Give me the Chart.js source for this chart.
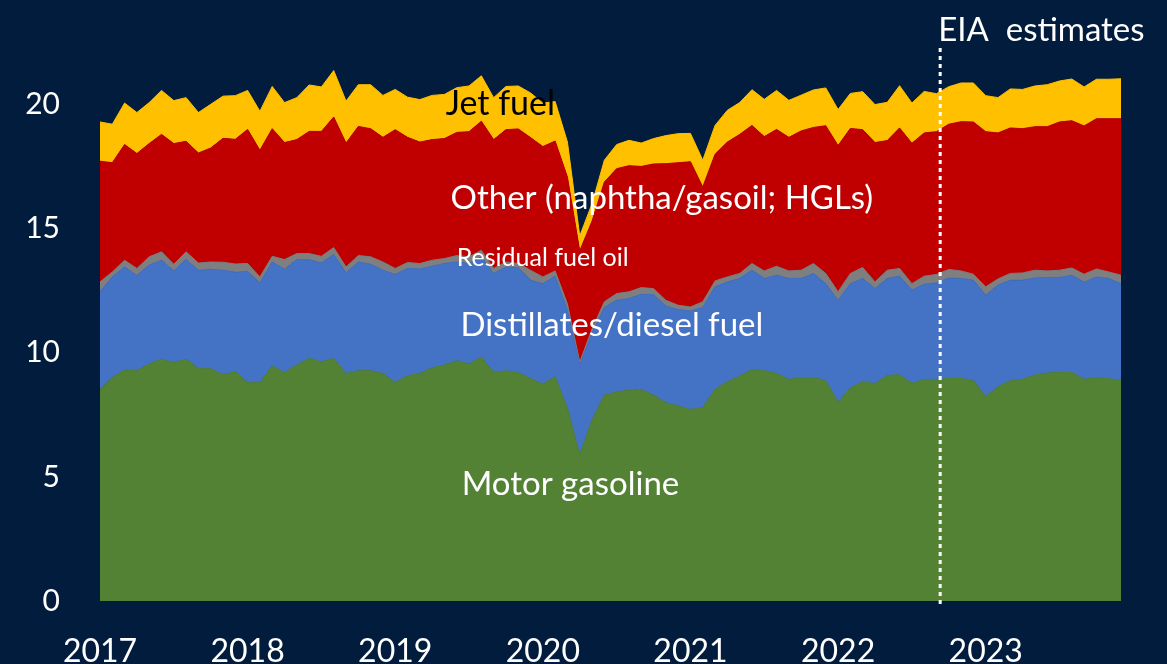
<!DOCTYPE html>
<html>
<head>
<meta charset="utf-8">
<script src="https://cdn.jsdelivr.net/npm/chart.js@4.4.1/dist/chart.umd.min.js"></script>
<style>
  html, body { margin: 0; padding: 0; background: #021c3e; }
  #wrap { width: 1167px; height: 664px; position: relative; }
</style>
</head>
<body>
<div id="wrap"><canvas id="fuelChart"></canvas></div>
<script>
var YEARS = ['2017', '2018', '2019', '2020', '2021', '2022', '2023'];
var Y_TICKS = [0, 5, 10, 15, 20];

// million barrels per day, monthly Jan 2017 - Dec 2023
var GASOLINE = [8.52, 9.00, 9.30, 9.27, 9.54, 9.74, 9.59, 9.73, 9.36, 9.35, 9.11, 9.23,
    8.79, 8.79, 9.46, 9.20, 9.50, 9.77, 9.63, 9.77, 9.16, 9.27, 9.27, 9.16,
    8.79, 9.07, 9.16, 9.39, 9.50, 9.67, 9.54, 9.82, 9.20, 9.27, 9.19, 8.96,
    8.73, 9.03, 7.75, 5.88, 7.28, 8.29, 8.42, 8.49, 8.52, 8.29, 7.98, 7.85,
    7.71, 7.79, 8.52, 8.83, 9.05, 9.32, 9.27, 9.16, 8.92, 9.00, 9.00, 8.87,
    8.00, 8.58, 8.83, 8.75, 9.08, 9.11, 8.76, 8.92, 8.92, 8.96, 8.96, 8.88,
    8.22, 8.62, 8.87, 8.93, 9.09, 9.18, 9.20, 9.20, 8.93, 8.99, 8.95, 8.89];

var DISTILLATE = [3.93, 4.05, 4.15, 3.84, 3.99, 3.98, 3.70, 4.02, 3.96, 4.01, 4.21, 4.01,
    4.48, 4.02, 4.19, 4.16, 4.25, 3.98, 3.98, 4.19, 4.05, 4.38, 4.29, 4.16,
    4.36, 4.32, 4.21, 4.09, 4.09, 3.98, 4.05, 4.04, 3.99, 4.18, 4.24, 3.96,
    4.05, 4.05, 3.96, 3.62, 3.52, 3.53, 3.69, 3.69, 3.83, 4.05, 3.89, 3.89,
    3.97, 4.03, 4.13, 4.02, 3.94, 4.00, 3.72, 3.96, 4.07, 3.99, 4.19, 3.91,
    4.11, 4.20, 4.16, 3.83, 3.91, 3.97, 3.76, 3.84, 3.89, 4.05, 4.03, 4.04,
    4.09, 4.10, 4.05, 3.99, 3.92, 3.85, 3.83, 3.92, 3.91, 4.06, 4.04, 3.89];

var RESIDUAL = [0.40, 0.20, 0.27, 0.28, 0.33, 0.34, 0.27, 0.31, 0.29, 0.29, 0.32, 0.33,
    0.32, 0.24, 0.23, 0.39, 0.24, 0.24, 0.27, 0.27, 0.24, 0.26, 0.30, 0.33,
    0.24, 0.24, 0.22, 0.24, 0.20, 0.26, 0.27, 0.26, 0.20, 0.20, 0.16, 0.40,
    0.27, 0.21, 0.25, 0.12, 0.15, 0.23, 0.27, 0.27, 0.27, 0.24, 0.24, 0.17,
    0.16, 0.23, 0.24, 0.20, 0.20, 0.27, 0.30, 0.36, 0.30, 0.33, 0.40, 0.41,
    0.34, 0.41, 0.44, 0.27, 0.33, 0.31, 0.26, 0.32, 0.34, 0.34, 0.30, 0.24,
    0.34, 0.25, 0.27, 0.29, 0.31, 0.26, 0.29, 0.29, 0.32, 0.32, 0.26, 0.34];

var OTHER = [4.86, 4.40, 4.66, 4.63, 4.56, 4.73, 4.86, 4.45, 4.43, 4.59, 4.99, 5.02,
    5.40, 5.10, 5.14, 4.71, 4.59, 4.92, 5.03, 5.26, 4.99, 5.20, 5.16, 5.02,
    5.59, 5.04, 4.89, 4.86, 4.83, 4.96, 5.04, 5.20, 5.19, 5.33, 5.42, 5.34,
    5.25, 5.23, 5.11, 4.48, 4.35, 4.82, 5.03, 5.08, 4.88, 5.02, 5.50, 5.74,
    5.85, 4.62, 5.10, 5.43, 5.60, 5.56, 5.41, 5.51, 5.38, 5.61, 5.48, 5.95,
    5.89, 5.84, 5.55, 5.61, 5.22, 5.66, 5.65, 5.77, 5.75, 5.85, 6.01, 6.13,
    6.25, 5.88, 5.86, 5.81, 5.78, 5.81, 5.97, 5.93, 5.97, 6.05, 6.17, 6.30];

var JET = [1.58, 1.55, 1.67, 1.65, 1.65, 1.77, 1.73, 1.76, 1.63, 1.76, 1.70, 1.76,
    1.57, 1.57, 1.70, 1.61, 1.69, 1.87, 1.79, 1.87, 1.69, 1.68, 1.77, 1.69,
    1.62, 1.62, 1.71, 1.78, 1.78, 1.80, 1.84, 1.83, 1.69, 1.74, 1.73, 1.80,
    1.75, 1.59, 1.41, 0.60, 0.70, 0.88, 0.97, 1.02, 0.94, 1.02, 1.13, 1.17,
    1.14, 1.08, 1.16, 1.28, 1.28, 1.44, 1.50, 1.57, 1.49, 1.44, 1.51, 1.52,
    1.45, 1.41, 1.53, 1.53, 1.54, 1.70, 1.62, 1.67, 1.53, 1.51, 1.56, 1.57,
    1.45, 1.42, 1.57, 1.58, 1.64, 1.69, 1.65, 1.68, 1.57, 1.59, 1.59, 1.61];

// forecast marker sits a bit past Sep 2022 (month index 68)
var ESTIMATE_START = 68.3;

var FONT = 'Lato, "Noto Sans", sans-serif';

var months = [];
YEARS.forEach(function(y) {
    for (var m = 1; m <= 12; m++) {
        months.push(y + '-' + (m < 10 ? '0' + m : m));
    }
});

function area(label, data, color, fill) {
    return {
        label: label,
        data: data,
        backgroundColor: color,
        borderColor: color,
        borderWidth: 1,
        pointRadius: 0,
        tension: 0,
        fill: fill
    };
}

// text labels sit on data coordinates: [text, month index, value, size, colour]
var areaLabels = [
    ['Jet fuel', 28.1, 20.0, 34, '#000000'],
    ['Other (naphtha/gasoil; HGLs)', 28.5, 16.2, 33, '#ffffff'],
    ['Residual fuel oil', 29.0, 13.8, 25, '#ffffff'],
    ['Distillates/diesel fuel', 29.3, 11.1, 33, '#ffffff'],
    ['Motor gasoline', 29.4, 4.7, 33, '#ffffff']
];

var overlay = {
    id: 'overlay',
    afterDatasetsDraw: function(chart) {
        var ctx = chart.ctx;
        var x = chart.scales.x, y = chart.scales.y;
        ctx.save();
        ctx.textBaseline = 'middle';
        ctx.textAlign = 'left';
        areaLabels.forEach(function(l) {
            ctx.font = l[3] + 'px ' + FONT;
            ctx.fillStyle = l[4];
            ctx.fillText(l[0], x.getPixelForValue(l[1]), y.getPixelForValue(l[2]));
        });

        var i0 = Math.floor(ESTIMATE_START);
        var p0 = x.getPixelForValue(i0), p1 = x.getPixelForValue(i0 + 1);
        var lx = p0 + (p1 - p0) * (ESTIMATE_START - i0);
        ctx.strokeStyle = '#ffffff';
        ctx.lineWidth = 3;
        ctx.setLineDash([4, 4]);
        ctx.beginPath();
        ctx.moveTo(lx, 48);
        ctx.lineTo(lx, chart.chartArea.bottom + 4);
        ctx.stroke();
        ctx.setLineDash([]);

        ctx.font = '33px ' + FONT;
        ctx.fillStyle = '#ffffff';
        ctx.fillText('EIA  estimates', lx - 2, 30);
        ctx.restore();
    }
};

var ctx = document.getElementById('fuelChart').getContext('2d');
var fuelChart = new Chart(ctx, {
    type: 'line',
    data: {
        labels: months,
        datasets: [
            area('Motor gasoline', GASOLINE, '#548235', 'origin'),
            area('Distillates/diesel fuel', DISTILLATE, '#4472c4', '-1'),
            area('Residual fuel oil', RESIDUAL, '#7f7f7f', '-1'),
            area('Other (naphtha/gasoil; HGLs)', OTHER, '#c00000', '-1'),
            area('Jet fuel', JET, '#ffc000', '-1')
        ]
    },
    options: {
        responsive: true,
        maintainAspectRatio: false,
        animation: false,
        layout: { padding: { top: 5, right: 46, left: 0, bottom: 0 } },
        plugins: {
            legend: { display: false },
            tooltip: { enabled: false }
        },
        scales: {
            x: {
                offset: false,
                grid: { display: false, drawTicks: false },
                border: { display: false },
                ticks: {
                    autoSkip: false,
                    maxRotation: 0,
                    padding: 31,
                    color: '#ffffff',
                    font: { family: FONT, size: 32 },
                    callback: function(value, index) {
                        return index % 12 === 0 ? YEARS[index / 12] : null;
                    }
                },
                afterFit: function(scale) {
                    scale.height = 63;
                    scale.paddingLeft = 0;
                    scale.paddingRight = 0;
                }
            },
            y: {
                stacked: true,
                bounds: 'data',
                min: 0,
                max: 24,
                grid: { display: false, drawTicks: false },
                border: { display: false },
                ticks: {
                    padding: 40,
                    color: '#ffffff',
                    font: { family: FONT, size: 30 }
                },
                afterBuildTicks: function(scale) {
                    scale.ticks = Y_TICKS.map(function(v) { return { value: v }; });
                },
                afterFit: function(scale) {
                    scale.width = 100;
                    scale.paddingTop = 0;
                    scale.paddingBottom = 0;
                }
            }
        }
    },
    plugins: [overlay]
});
</script>
</body>
</html>
